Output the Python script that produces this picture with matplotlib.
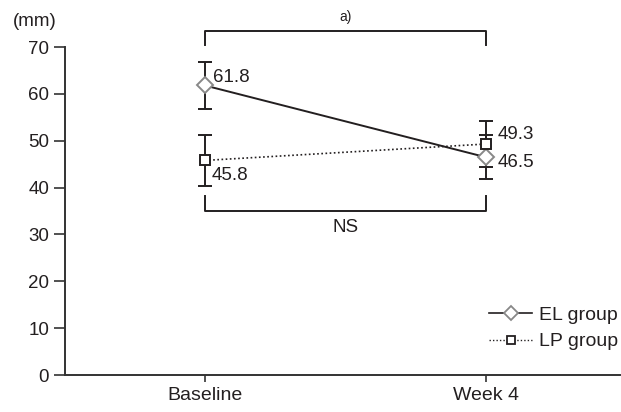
import matplotlib.pyplot as plt
from matplotlib.lines import Line2D

plt.rcParams['font.family'] = ['Liberation Sans', 'DejaVu Sans']

# данные
timepoints = ['Baseline', 'Week 4']
el_mean = [61.8, 46.5]
el_sd = [5.0, 4.7]
lp_mean = [45.8, 49.3]
lp_sd = [5.4, 5.0]
el_labels = ['61.8', '46.5']
lp_labels = ['45.8', '49.3']

txt = '#231f20'
x = [0, 1]

fig = plt.figure(figsize=(6.21, 4.12), dpi=100)
ax = fig.add_axes([0.1047, 0.0898, 0.893, 0.796])

# EL группа
ax.errorbar(x, el_mean, yerr=el_sd, color=txt, lw=1.4, capsize=5, capthick=1.4,
            elinewidth=1.4, fmt='none', zorder=2)
ax.plot(x, el_mean, color=txt, lw=1.4, zorder=3)
ax.plot(x, el_mean, ls='none', marker='D', ms=8, mfc='white', mec='#888888',
        mew=1.4, zorder=4)

# LP группа
ax.errorbar(x, lp_mean, yerr=lp_sd, color=txt, lw=1.4, capsize=5, capthick=1.4,
            elinewidth=1.4, fmt='none', zorder=2)
ax.plot(x, lp_mean, color=txt, lw=1.2, ls=(0, (1, 1.5)), zorder=3)
ax.plot(x, lp_mean, ls='none', marker='s', ms=7, mfc='white', mec=txt,
        mew=1.4, zorder=4)

# подписи значений
fs = 13.5
ax.text(0.028, 63.6, el_labels[0], fontsize=fs, color=txt, va='center')
ax.text(0.025, 42.5, lp_labels[0], fontsize=fs, color=txt, va='center')
ax.text(1.043, 51.3, lp_labels[1], fontsize=fs, color=txt, va='center')
ax.text(1.043, 45.3, el_labels[1], fontsize=fs, color=txt, va='center')

# скобки
ax.plot([0, 0, 1, 1], [70.4, 73.4, 73.4, 70.4], color=txt, lw=1.4, clip_on=False)
ax.text(0.5, 76.5, 'a)', ha='center', va='center', fontsize=10, color=txt)
ax.plot([0, 0, 1, 1], [38.3, 35.0, 35.0, 38.3], color=txt, lw=1.4)
ax.text(0.5, 31.5, 'NS', ha='center', va='center', fontsize=fs, color=txt)

ax.set_xlim(-0.498, 1.477)
ax.set_ylim(0, 70)
ax.set_yticks(range(0, 71, 10))
ax.set_xticks(x)
ax.set_xticklabels(timepoints)
for s in ['top', 'right']:
    ax.spines[s].set_visible(False)
for s in ['left', 'bottom']:
    ax.spines[s].set_color('#333333')
    ax.spines[s].set_linewidth(1.4)
ax.tick_params(colors='#333333', labelcolor=txt, labelsize=fs, width=1.2, length=8)
ax.tick_params(axis='x', labelsize=14, length=5)
fig.text(12.7 / 621, 1 - 30 / 412, '(mm)', fontsize=fs, color=txt,
         ha='left', va='bottom')

handles = [
    Line2D([], [], color=txt, lw=1.2, marker='D', ms=7, mfc='white', mec='#888888', mew=1.3),
    Line2D([], [], color=txt, lw=1.0, ls=(0, (1, 1.5)), marker='s', ms=6, mfc='white',
           mec=txt, mew=1.3),
]
ax.legend(handles, ['EL group', 'LP group'], loc='lower right', frameon=False,
          bbox_to_anchor=(0.997, 0.075), fontsize=14, handlelength=2.2,
          handletextpad=0.35, labelspacing=0.45, labelcolor=txt,
          borderaxespad=0, borderpad=0)

fig.savefig('out.png', dpi=100)
